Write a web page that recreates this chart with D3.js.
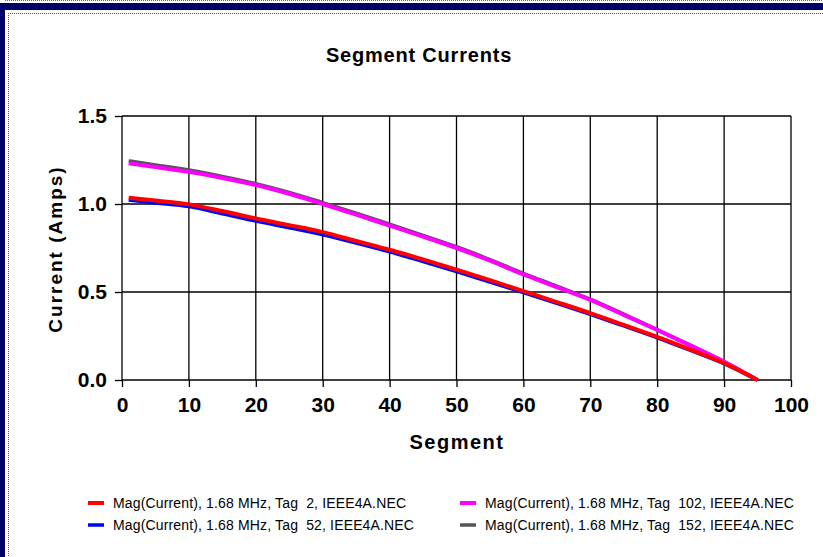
<!DOCTYPE html>
<html>
<head>
<meta charset="utf-8">
<script src="https://cdn.jsdelivr.net/npm/d3@7"></script>
<style>
  html, body { margin: 0; padding: 0; background: #fff; }
  svg { display: block; font-family: Arial, "Liberation Sans", sans-serif; }
</style>
</head>
<body>
<svg id="chart" width="823" height="557"></svg>
<script>
// Segment numbers along the wire and current magnitude (A) per tag
const segments = [1, 5, 10, 15, 20, 25, 30, 35, 40, 45, 50, 55, 60, 65, 70, 75, 80, 85, 90, 95];
const tag2   = [1.036, 1.020, 0.998, 0.960, 0.918, 0.880, 0.840, 0.790, 0.740, 0.685, 0.627, 0.567, 0.505, 0.443, 0.380, 0.313, 0.245, 0.172, 0.096, 0.0];
const tag52  = [1.023, 1.006, 0.985, 0.945, 0.903, 0.865, 0.825, 0.778, 0.728, 0.673, 0.616, 0.557, 0.496, 0.436, 0.373, 0.307, 0.240, 0.168, 0.093, 0.0];
const tag102 = [1.232, 1.210, 1.183, 1.148, 1.108, 1.058, 1.000, 0.940, 0.877, 0.815, 0.750, 0.678, 0.600, 0.528, 0.455, 0.370, 0.284, 0.195, 0.104, 0.0];
const tag152 = [1.245, 1.222, 1.193, 1.157, 1.116, 1.066, 1.008, 0.948, 0.885, 0.822, 0.757, 0.684, 0.606, 0.533, 0.459, 0.374, 0.287, 0.197, 0.105, 0.0];

const xTicks = [0, 10, 20, 30, 40, 50, 60, 70, 80, 90, 100];
const yTicks = [0, 0.5, 1.0, 1.5];

const seriesNames = [
  "Mag(Current), 1.68 MHz, Tag  2, IEEE4A.NEC",
  "Mag(Current), 1.68 MHz, Tag  52, IEEE4A.NEC",
  "Mag(Current), 1.68 MHz, Tag  102, IEEE4A.NEC",
  "Mag(Current), 1.68 MHz, Tag  152, IEEE4A.NEC"
];
const seriesColors = ["#ff0000", "#0000ff", "#ff00ff", "#555555"];
const seriesValues = [tag2, tag52, tag102, tag152];
const seriesWidths = [4, 3.5, 4, 3.5];

const svg = d3.select("#chart");

// Window frame: navy bars with dotted rules
svg.append("rect").attr("x", 0).attr("y", 3).attr("width", 823).attr("height", 7).attr("fill", "#000066");
svg.append("rect").attr("x", 0).attr("y", 3).attr("width", 5).attr("height", 554).attr("fill", "#000066");
svg.append("line").attr("x1", 5).attr("x2", 823).attr("y1", 0.5).attr("y2", 0.5)
  .attr("stroke", "#666").attr("stroke-dasharray", "1,1");
svg.append("line").attr("x1", 8).attr("x2", 823).attr("y1", 13.5).attr("y2", 13.5)
  .attr("stroke", "#555").attr("stroke-dasharray", "1,1");
svg.append("line").attr("x1", 8.5).attr("x2", 8.5).attr("y1", 13).attr("y2", 557)
  .attr("stroke", "#555").attr("stroke-dasharray", "1,1");

const plotLeft = 122, plotRight = 791, plotTop = 116, plotBottom = 380;
const x = d3.scaleLinear().domain([0, 100]).range([plotLeft, plotRight]);
const y = d3.scaleLinear().domain([0, 1.5]).range([plotBottom, plotTop]);

// Grid
const grid = svg.append("g").attr("stroke", "#000").attr("stroke-width", 1.3);
grid.selectAll(".vx").data(xTicks).join("line")
  .attr("x1", d => x(d)).attr("x2", d => x(d)).attr("y1", plotTop).attr("y2", plotBottom);
grid.selectAll(".hy").data(yTicks).join("line")
  .attr("x1", plotLeft).attr("x2", plotRight).attr("y1", d => y(d)).attr("y2", d => y(d));

// Axes
const xAxis = d3.axisBottom(x).tickValues(xTicks).tickFormat(d3.format("d")).tickSize(7).tickPadding(10);
const yAxis = d3.axisLeft(y).tickValues(yTicks).tickFormat(d3.format(".1f")).tickSize(7).tickPadding(8);

const gx = svg.append("g").attr("transform", `translate(0,${plotBottom})`).call(xAxis);
const gy = svg.append("g").attr("transform", `translate(${plotLeft},0)`).call(yAxis);
[gx, gy].forEach(g => {
  g.select(".domain").remove();
  g.selectAll(".tick line").attr("stroke", "#000").attr("stroke-width", 1.3);
  g.selectAll(".tick text").attr("fill", "#000").style("font-size", "21px").style("font-weight", "bold");
});

// Curves
const line = d3.line().x((d, i) => x(segments[i])).y(d => y(d)).curve(d3.curveMonotoneX);
const drawOrder = [3, 2, 1, 0];
svg.append("g").selectAll("path").data(drawOrder).join("path")
  .attr("d", i => line(seriesValues[i]))
  .attr("fill", "none")
  .attr("stroke", i => seriesColors[i])
  .attr("stroke-width", i => seriesWidths[i])
  .attr("stroke-linejoin", "round");

// Titles
svg.append("text").attr("x", 419).attr("y", 62).attr("text-anchor", "middle")
  .style("font-size", "20px").style("font-weight", "bold").style("letter-spacing", "0.8px").text("Segment Currents");
svg.append("text").attr("x", 457).attr("y", 449).attr("text-anchor", "middle")
  .style("font-size", "20px").style("font-weight", "bold").style("letter-spacing", "1.5px").text("Segment");
svg.append("text").attr("transform", "translate(62,249) rotate(-90)").attr("text-anchor", "middle")
  .style("font-size", "19px").style("font-weight", "bold").style("letter-spacing", "2px").text("Current (Amps)");

// Legend
const legendPos = [[88, 503], [88, 525], [460, 503], [460, 525]];
const legend = svg.append("g").selectAll("g").data(seriesNames).join("g")
  .attr("transform", (d, i) => `translate(${legendPos[i][0]},${legendPos[i][1]})`);
legend.append("line").attr("x1", 0).attr("x2", 16).attr("y1", 0).attr("y2", 0)
  .attr("stroke", (d, i) => seriesColors[i]).attr("stroke-width", (d, i) => seriesWidths[i]);
legend.append("text").attr("x", 25).attr("y", 5).attr("xml:space", "preserve")
  .style("white-space", "pre").style("font-size", "14px").style("letter-spacing", "0.15px")
  .attr("fill", "#000").text(d => d);
</script>
</body>
</html>
